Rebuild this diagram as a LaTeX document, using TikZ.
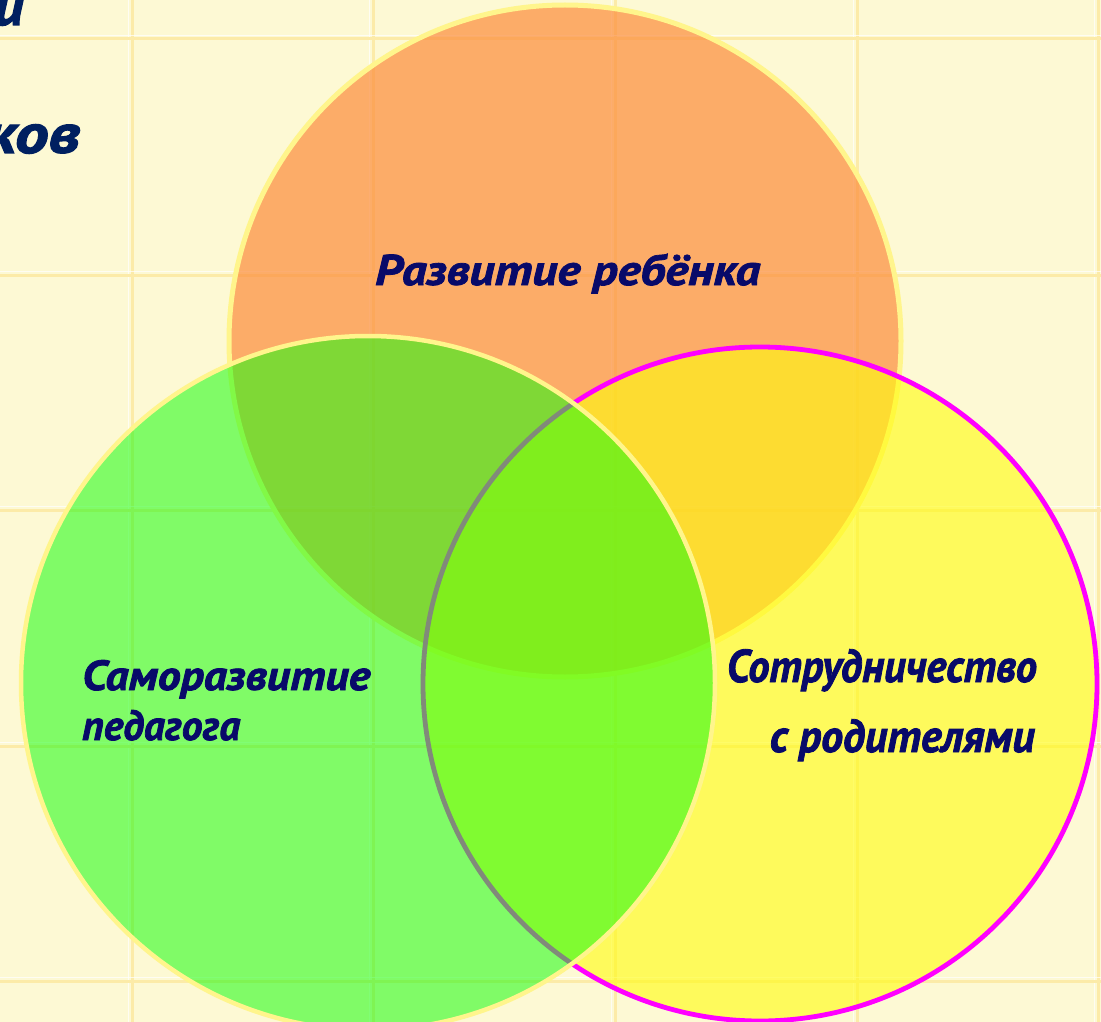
\documentclass[tikz,border=0pt]{standalone}
\usepackage{fontspec}
\setmainfont{PT Sans}
\newfontfamily\scr{PT Sans Bold Italic}[FakeBold=1.8]
\usepackage{graphicx}
\definecolor{bgc}{RGB}{253,249,212}
\definecolor{gridc}{RGB}{252,235,168}
\definecolor{orangec}{RGB}{252,140,59}
\definecolor{yellowc}{RGB}{255,252,13}
\definecolor{greenc}{RGB}{26,253,14}
\definecolor{paleb}{RGB}{255,245,140}
\definecolor{magentac}{RGB}{255,0,255}
\definecolor{navy}{RGB}{8,10,105}
\definecolor{navyd}{RGB}{0,32,96}
\newsavebox\lblbox
% #1 font size, #2 target width (pt), #3 text
\newcommand{\fitw}[3]{%
  \sbox\lblbox{\scr\fontsize{#1}{#1}\selectfont #3}%
  \pgfmathsetmacro{\sxf}{#2/\the\wd\lblbox}%
  \scalebox{\sxf}[1]{\usebox\lblbox}}
\tikzset{
  gridline/.style={gridc, line width=3pt},
  gridhi/.style={white, opacity=0.7, line width=1.2pt},
  lbl/.style={text=navy, inner sep=0pt},
  toplbl/.style={text=navyd, inner sep=0pt},
}
\begin{document}
\begin{tikzpicture}[x=1pt,y=-1pt]
\useasboundingbox (0,0) rectangle (1101,1022);
\clip (0,0) rectangle (1101,1022);
\fill[bgc] (0,0) rectangle (1101,1022);
% grid
\foreach \x in {132,373,615,857,1098} {
  \draw[gridhi] (\x-3.5,0) -- (\x-3.5,1022);
  \draw[gridline] (\x,0) -- (\x,1022);
}
\foreach \y in {39,275,510,746,981} {
  \draw[gridhi] (0,\y-3.5) -- (1101,\y-3.5);
  \draw[gridline] (0,\y) -- (1101,\y);
}
% partial text at top left
\node[toplbl, anchor=base east] (ti) at (24,25) {\fitw{56}{30}{и}};
\node[toplbl, anchor=base east] (tk) at (80,153) {\fitw{56}{95}{ков}};
% circles
\fill[orangec, fill opacity=0.7] (565,341) circle[radius=336pt];
\draw[paleb, line width=5pt] (565,341) circle[radius=336pt];
\fill[yellowc, fill opacity=0.6] (760,684) circle[radius=337pt];
\draw[magentac, line width=4.8pt] (760,684) circle[radius=337pt];
\fill[greenc, fill opacity=0.55] (368,683) circle[radius=347pt];
\draw[paleb, line width=4.5pt] (368,683) circle[radius=347pt];
% labels
\node[lbl, anchor=base west] (t1) at (375,285) {\fitw{43}{385}{Развитие ребёнка}};
\node[lbl, anchor=base west] (t2) at (82,690) {\fitw{42}{288}{Саморазвитие}};
\node[lbl, anchor=base west] (t3) at (82,740) {\fitw{42}{158}{педагога}};
\node[lbl, anchor=base east] (t4) at (1037,682) {\fitw{46}{310}{Сотрудничество}};
\node[lbl, anchor=base east] (t5) at (1035,752) {\fitw{46}{265}{с родителями}};
\end{tikzpicture}
\end{document}
